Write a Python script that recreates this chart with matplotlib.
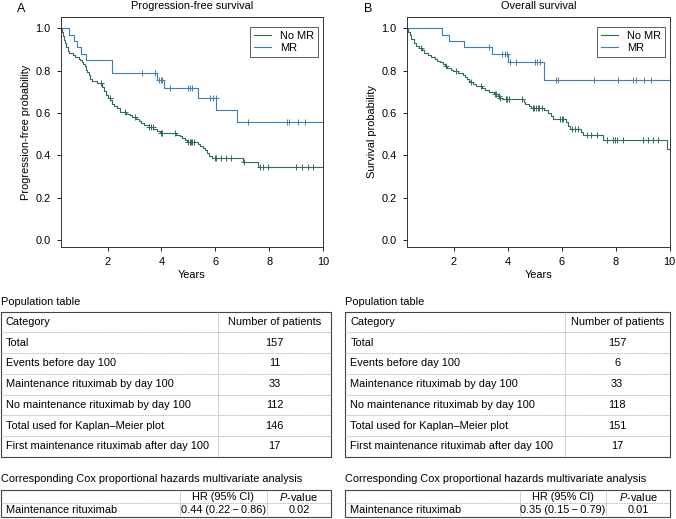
import numpy as np
import matplotlib
matplotlib.use("Agg")
import matplotlib.pyplot as plt

plt.rcParams['font.family'] = ['Liberation Sans', 'DejaVu Sans']
plt.rcParams['mathtext.fontset'] = 'custom'
plt.rcParams['mathtext.it'] = 'Liberation Sans:italic'
plt.rcParams['mathtext.rm'] = 'Liberation Sans'

# Kaplan-Meier step curves (years since day 100, survival level after step)
pfs_nomr_t = [0.274, 0.30, 0.34, 0.38, 0.42, 0.47, 0.52, 0.57, 0.70, 0.80, 0.92, 0.98,
              1.05, 1.10, 1.15, 1.20, 1.25, 1.30, 1.36, 1.42, 1.60, 1.80, 1.86, 1.94,
              2.00, 2.10, 2.16, 2.25, 2.35, 2.45, 2.70, 2.82, 2.92, 3.05, 3.15, 3.25,
              3.35, 3.55, 3.70, 3.85, 3.95, 4.55, 4.68, 4.78, 4.88, 4.95, 5.35, 5.45,
              5.55, 5.62, 5.70, 5.78, 5.86, 7.03, 7.59]
pfs_nomr_s = [1.000, 0.982, 0.964, 0.946, 0.929, 0.911, 0.893, 0.884, 0.875, 0.866, 0.857, 0.848,
              0.839, 0.830, 0.821, 0.804, 0.795, 0.777, 0.759, 0.750, 0.741, 0.723, 0.705, 0.687,
              0.669, 0.660, 0.642, 0.633, 0.624, 0.606, 0.597, 0.588, 0.579, 0.570, 0.561, 0.552,
              0.543, 0.534, 0.525, 0.516, 0.507, 0.498, 0.489, 0.480, 0.471, 0.462, 0.453, 0.443,
              0.433, 0.423, 0.411, 0.398, 0.386, 0.370, 0.346]
pfs_nomr_cens = [1.75, 2.08, 2.64, 3.01, 3.55, 3.63, 3.68, 3.97, 4.02, 4.52, 5.00, 5.05,
                 5.10, 5.15, 5.22, 5.98, 6.04, 6.23, 6.41, 6.60, 7.07, 7.65, 7.77, 7.96,
                 9.01, 9.23, 9.44, 9.63]

pfs_mr_t = [0.274, 0.575, 0.75, 0.87, 1.03, 1.19, 2.15, 3.82, 4.10, 5.36, 6.04, 6.81]
pfs_mr_s = [1.000, 0.970, 0.939, 0.909, 0.879, 0.848, 0.788, 0.755, 0.718, 0.670, 0.616, 0.557]
pfs_mr_cens = [3.28, 3.75, 3.90, 3.98, 4.02, 4.31, 5.00, 5.07, 5.13, 5.80, 5.92, 6.02,
               7.21, 8.66, 8.74, 9.07, 9.32]

os_nomr_t = [0.274, 0.30, 0.36, 0.42, 0.50, 0.58, 0.70, 0.82, 0.90, 1.05, 1.15, 1.28,
             1.38, 1.48, 1.58, 1.65, 1.75, 1.88, 1.95, 2.15, 2.35, 2.42, 2.48, 2.55,
             2.62, 2.72, 2.82, 3.05, 3.15, 3.30, 3.50, 3.62, 3.72, 3.80, 4.58, 4.65,
             4.78, 4.85, 5.35, 5.48, 5.58, 5.68, 6.15, 6.22, 6.30, 6.72, 6.78, 7.54, 9.90]
os_nomr_s = [1.000, 0.983, 0.966, 0.949, 0.932, 0.915, 0.907, 0.898, 0.881, 0.873, 0.864, 0.856,
             0.847, 0.839, 0.830, 0.821, 0.813, 0.804, 0.796, 0.787, 0.778, 0.770, 0.761, 0.752,
             0.744, 0.735, 0.726, 0.717, 0.708, 0.699, 0.690, 0.681, 0.672, 0.664, 0.654, 0.644,
             0.634, 0.624, 0.614, 0.600, 0.586, 0.571, 0.555, 0.539, 0.523, 0.508, 0.494, 0.472, 0.430]
os_nomr_cens = [0.78, 1.71, 2.09, 2.62, 2.99, 3.51, 3.57, 3.67, 3.72, 3.92, 3.98, 4.04,
                4.53, 4.92, 4.98, 5.04, 5.10, 5.16, 5.28, 5.93, 5.99, 6.05, 6.37, 6.49,
                6.61, 6.92, 7.10, 7.29, 7.66, 7.90, 7.97, 8.05, 8.28, 9.02, 9.20, 9.39, 9.57]

os_mr_t = [0.274, 1.55, 1.80, 2.37, 3.41, 4.02, 5.33]
os_mr_s = [1.000, 0.970, 0.939, 0.909, 0.877, 0.842, 0.754]
os_mr_cens = [3.29, 3.77, 3.88, 3.95, 4.06, 4.29, 5.02, 5.09, 5.19, 5.80, 5.87, 7.19,
              8.08, 8.64, 8.74, 9.05, 9.32]

# tables
pop_categories = ["Total", "Events before day 100", "Maintenance rituximab by day 100",
                  "No maintenance rituximab by day 100", "Total used for Kaplan\u2013Meier plot",
                  "First maintenance rituximab after day 100"]
pop_pfs_counts = [157, 11, 33, 112, 146, 17]
pop_os_counts = [157, 6, 33, 118, 151, 17]
cox_label = "Maintenance rituximab"
cox_pfs = ["0.44 (0.22\u2009\u2212\u20090.86)", "0.02"]
cox_os = ["0.35 (0.15\u2009\u2212\u20090.79)", "0.01"]

GREEN = "#2f6e50"
BLUE = "#3a80b8"
FS = 7.9
XMAX = 10.0


def km(ax, t, s, cens, color, label):
    tt = list(t) + [XMAX]
    ss = list(s) + [s[-1]]
    ax.step(tt, ss, where='post', color=color, lw=0.8, label=label)
    idx = np.searchsorted(t, cens, side='right') - 1
    ax.plot(cens, np.array(s)[idx], ls='none', marker='+', ms=5, mew=0.7, color=color)


fig = plt.figure(figsize=(6.76, 5.19), dpi=100)
W, H = 676, 519


def axes_px(l, r, t, b):
    return fig.add_axes([l / W, 1 - b / H, (r - l) / W, (b - t) / H])


# overlay for tables and panel letters, in pixel coordinates
tab = fig.add_axes([0, 0, 1, 1])
tab.set_xlim(0, W)
tab.set_ylim(H, 0)
tab.axis('off')

panels = [
    (61, 323, 17, "A", "Progression-free survival", "Progression-free probability",
     (pfs_nomr_t, pfs_nomr_s, pfs_nomr_cens), (pfs_mr_t, pfs_mr_s, pfs_mr_cens)),
    (407.3, 669.7, 364, "B", "Overall survival", "Survival probability",
     (os_nomr_t, os_nomr_s, os_nomr_cens), (os_mr_t, os_mr_s, os_mr_cens)),
]

for l, r, lx, letter, title, ylab, nomr, mr in panels:
    ax = axes_px(l, r, 17, 247)
    km(ax, *nomr, GREEN, "No MR")
    km(ax, *mr, BLUE, "MR")
    ax.set_xlim(0.27, XMAX)
    ax.set_ylim(-0.033, 1.053)
    ax.set_xticks([2, 4, 6, 8, 10])
    ax.set_yticks([0.0, 0.2, 0.4, 0.6, 0.8, 1.0])
    ax.set_yticklabels(["0.0", "0.2", "0.4", "0.6", "0.8", "1.0"])
    ax.tick_params(direction='out', length=3, width=0.6, labelsize=FS, pad=4.5)
    for sp in ax.spines.values():
        sp.set_linewidth(0.7)
        sp.set_color("#333333")
    ax.set_xlabel("Years", fontsize=FS, labelpad=2)
    ax.set_ylabel(ylab, fontsize=FS, labelpad=3)
    ax.set_title(title, fontsize=FS, pad=5.5)
    tab.text(lx, 8.5, letter, fontsize=9, va='center')
    leg = ax.legend(loc='upper right', bbox_to_anchor=(0.981, 0.957), fontsize=FS,
                    frameon=True, fancybox=False, handlelength=1.6, handletextpad=0.8,
                    borderpad=0.35, labelspacing=0.2, borderaxespad=0)
    leg.get_frame().set_edgecolor("#333333")
    leg.get_frame().set_linewidth(0.7)

dot = dict(color="#9a9a9a", lw=0.6, ls=(0, (1, 1)))
solid = dict(color="#444444", lw=0.8)


def pop_table(x0, x1, xdiv, counts):
    top, bot = 311.7, 456.7
    rows = [("Category", "Number of patients")] + list(zip(pop_categories, counts))
    h = (bot - top) / len(rows)
    tab.text(x0, top - 9.5, "Population table", fontsize=FS, va='center')
    tab.plot([x0, x1, x1, x0, x0], [top, top, bot, bot, top], **solid)
    tab.plot([xdiv, xdiv], [top, bot], **dot)
    for i, (a, b) in enumerate(rows):
        yc = top + h * (i + 0.5)
        if i > 0:
            tab.plot([x0, x1], [top + h * i] * 2, **dot)
        tab.text(x0 + 5, yc, a, fontsize=FS, va='center')
        tab.text((xdiv + x1) / 2, yc, str(b), fontsize=FS, va='center', ha='center')


def cox_table(x0, x1, d1, d2, vals):
    top, bot = 490, 516.7
    h = (bot - top) / 2
    tab.text(x0, top - 11.5, "Corresponding Cox proportional hazards multivariate analysis",
             fontsize=FS, va='center')
    tab.plot([x0, x1, x1, x0, x0], [top, top, bot, bot, top], **solid)
    tab.plot([x0, x1], [top + h] * 2, **dot)
    tab.plot([d1, d1], [top, bot], **dot)
    tab.plot([d2, d2], [top, bot], **dot)
    tab.text((d1 + d2) / 2, top + h / 2, "HR (95% CI)", fontsize=FS, va='center', ha='center')
    tab.text((d2 + x1) / 2, top + h / 2, "$P$-value", fontsize=FS, va='center', ha='center')
    tab.text(x0 + 5, top + 1.5 * h, cox_label, fontsize=FS, va='center')
    tab.text((d1 + d2) / 2, top + 1.5 * h, vals[0], fontsize=FS, va='center', ha='center')
    tab.text((d2 + x1) / 2, top + 1.5 * h, vals[1], fontsize=FS, va='center', ha='center')


pop_table(1, 331, 218, pop_pfs_counts)
pop_table(345.3, 669.7, 564.7, pop_os_counts)
cox_table(1, 331, 180, 266.7, cox_pfs)
cox_table(345.3, 669.7, 519.7, 606.3, cox_os)

fig.savefig("out.png", dpi=100)
